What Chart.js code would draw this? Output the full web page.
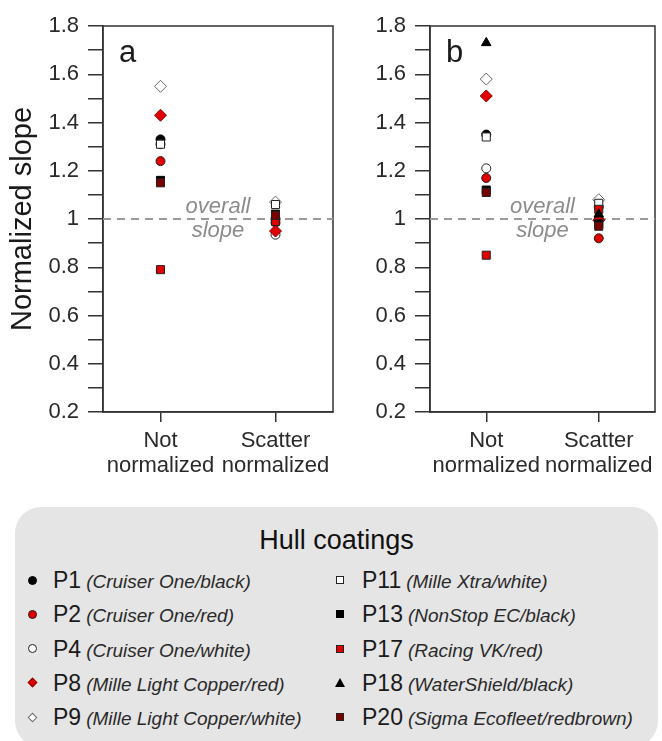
<!DOCTYPE html>
<html lang="en">
<head>
<meta charset="UTF-8">
<title>Normalized slope by hull coating</title>
<style>
  body { margin: 0; background: #fff; font-family: Arial, "Liberation Sans", sans-serif; }
  #wrap { position: relative; width: 662px; height: 741px; overflow: hidden; }
  #chartA { position: absolute; left: 0; top: 0; }
  #chartB { position: absolute; left: 340px; top: 0; }
  .legend {
    position: absolute; left: 15px; top: 507px; width: 643px; height: 240px;
    background: #e5e5e5; border-radius: 26px;
  }
  .legend h3 {
    position: absolute; left: 0; right: 0; top: 18px; margin: 0;
    height: 30px; line-height: 30px; text-align: center;
    font-weight: normal; font-size: 27px; color: #111;
  }
  .item { position: absolute; height: 30px; line-height: 30px; white-space: nowrap; }
  .code { font-size: 23px; color: #1a1a1a; }
  .desc { font-size: 19px; font-style: italic; color: #2a2a2a; margin-left: 5px; }
  .mk { position: absolute; box-sizing: border-box; }
</style>
</head>
<body>
<div id="wrap">
  <canvas id="chartA" width="340" height="500"></canvas>
  <canvas id="chartB" width="322" height="500"></canvas>
  <div class="legend" id="legend"><h3>Hull coatings</h3></div>
</div>

<script src="https://cdn.jsdelivr.net/npm/chart.js"></script>
<script>
// x categories
const categories = [['Not', 'normalized'], ['Scatter', 'normalized']];

// y axis
const yMin = 0.2;
const yMax = 1.8;
const yStep = 0.1;
const overallSlope = 1;

// coatings
const coatings = ['P1', 'P2', 'P4', 'P8', 'P9', 'P11', 'P13', 'P17', 'P18', 'P20'];
const descriptions = [
    'Cruiser One/black', 'Cruiser One/red', 'Cruiser One/white',
    'Mille Light Copper/red', 'Mille Light Copper/white', 'Mille Xtra/white',
    'NonStop EC/black', 'Racing VK/red', 'WaterShield/black', 'Sigma Ecofleet/redbrown'
];

// panel a
const aNotNormalized     = [1.33, 1.24, 1.31, 1.43, 1.55, 1.31, 1.16, 0.79, null, 1.15];
const aScatterNormalized = [1.00, 0.985, 0.935, 0.95, 1.07, 1.06, 1.02, 0.99, null, 1.015];

// panel b
const bNotNormalized     = [1.35, 1.17, 1.21, 1.51, 1.58, 1.34, 1.12, 0.85, 1.73, 1.11];
const bScatterNormalized = [1.00, 0.92, 1.05, 0.995, 1.08, 1.065, 0.98, 1.04, 1.02, 0.97];

// marker look for each coating (same order as coatings)
const markers = [
    { shape: 'circle',   fill: '#000000', stroke: '#000000', r: 4.5 },
    { shape: 'circle',   fill: '#e00000', stroke: '#222222', r: 4.5 },
    { shape: 'circle',   fill: '#ffffff', stroke: '#222222', r: 4.5 },
    { shape: 'rectRot',  fill: '#e00000', stroke: '#8a0000', r: 6 },
    { shape: 'rectRot',  fill: '#ffffff', stroke: '#666666', r: 6 },
    { shape: 'rect',     fill: '#ffffff', stroke: '#222222', r: 5.7 },
    { shape: 'rect',     fill: '#000000', stroke: '#000000', r: 5.7 },
    { shape: 'rect',     fill: '#e00000', stroke: '#222222', r: 5.7 },
    { shape: 'triangle', fill: '#000000', stroke: '#000000', r: 5.5 },
    { shape: 'rect',     fill: '#7a0000', stroke: '#222222', r: 5.7 }
];

const FONT = 'Arial, "Liberation Sans", sans-serif';

const panelDecor = {
    id: 'panelDecor',
    beforeDatasetsDraw(chart, args, opts) {
        const { ctx, chartArea: a, scales } = chart;
        ctx.save();
        // overall slope text
        const cx = scales.x.getPixelForValue(1);
        const cy = scales.y.getPixelForValue(overallSlope);
        ctx.font = 'italic 22px ' + FONT;
        ctx.fillStyle = '#8c8c8c';
        ctx.textAlign = 'center';
        ctx.textBaseline = 'middle';
        ctx.fillText('overall', cx, cy - 12);
        ctx.fillText('slope', cx, cy + 12);
        // panel letter
        ctx.font = '31px ' + FONT;
        ctx.fillStyle = '#1a1a1a';
        ctx.textAlign = 'left';
        ctx.textBaseline = 'alphabetic';
        ctx.fillText(opts.letter, a.left + 16, a.top + 36);
        // frame
        ctx.strokeStyle = '#333';
        ctx.lineWidth = 1.5;
        ctx.strokeRect(a.left, a.top, a.right - a.left, a.bottom - a.top);
        ctx.restore();
    }
};

function makePanel(id, notVals, scatVals, letter, showTitle, axisWidth, padRight) {
    const datasets = coatings.map((c, i) => ({
        label: c,
        data: [notVals[i], scatVals[i]]
            .map((v, k) => ({ x: k + 0.5, y: v }))
            .filter(p => p.y !== null),
        pointStyle: markers[i].shape,
        backgroundColor: markers[i].fill,
        borderColor: markers[i].stroke,
        borderWidth: 1,
        pointRadius: markers[i].r,
        order: coatings.length - i
    }));
    datasets.push({
        type: 'line',
        label: 'overall slope',
        data: [{ x: 0, y: overallSlope }, { x: categories.length, y: overallSlope }],
        borderColor: '#9a9a9a',
        borderWidth: 2,
        borderDash: [8, 6],
        pointRadius: 0,
        order: 100
    });

    return new Chart(document.getElementById(id), {
        type: 'scatter',
        data: { datasets },
        options: {
            responsive: false,
            animation: false,
            events: [],
            layout: { padding: { top: 26, right: padRight, left: 0, bottom: 0 } },
            plugins: {
                legend: { display: false },
                tooltip: { enabled: false },
                panelDecor: { letter }
            },
            scales: {
                x: {
                    type: 'linear',
                    min: 0,
                    max: categories.length,
                    afterBuildTicks: s => { s.ticks = categories.map((c, k) => ({ value: k + 0.5 })); },
                    afterFit: s => { s.height = 88; },
                    grid: { drawOnChartArea: false, tickLength: 10, color: '#333', lineWidth: 1.5 },
                    border: { color: '#333', width: 1.5 },
                    ticks: {
                        padding: 7,
                        color: '#2a2a2a',
                        font: { family: FONT, size: 22, lineHeight: 1.12 },
                        maxRotation: 0,
                        autoSkip: false,
                        callback: v => categories[Math.round(v - 0.5)]
                    }
                },
                y: {
                    min: yMin,
                    max: yMax,
                    afterFit: s => { s.width = axisWidth; },
                    grid: { drawOnChartArea: false, tickLength: 15, color: '#333', lineWidth: 1.5 },
                    border: { color: '#333', width: 1.5 },
                    ticks: {
                        stepSize: yStep,
                        autoSkip: false,
                        padding: 9,
                        color: '#2a2a2a',
                        font: { family: FONT, size: 22 },
                        callback: v => {
                            const t = Math.round(v * 10);
                            return t % 2 === 0 ? String(t / 10) : '';
                        }
                    },
                    title: {
                        display: showTitle,
                        text: 'Normalized slope',
                        color: '#1a1a1a',
                        font: { family: FONT, size: 29 },
                        padding: { top: 6, bottom: 0 }
                    }
                }
            }
        },
        plugins: [panelDecor]
    });
}

makePanel('chartA', aNotNormalized, aScatterNormalized, 'a', true, 103, 5);
makePanel('chartB', bNotNormalized, bScatterNormalized, 'b', false, 90, 1);

// legend
const legend = document.getElementById('legend');
const colX = [17, 325];
const textX = [38, 347];
coatings.forEach((c, i) => {
    const col = i < 5 ? 0 : 1;
    const row = i % 5;
    const cy = 73 + row * 34.3;
    const item = document.createElement('div');
    item.className = 'item';
    item.style.left = textX[col] + 'px';
    item.style.top = (cy - 15) + 'px';
    item.innerHTML = '<span class="code">' + c + '</span><span class="desc">(' + descriptions[i] + ')</span>';
    legend.appendChild(item);

    const m = markers[i];
    const mk = document.createElement('div');
    mk.className = 'mk';
    let size = 9;
    if (m.shape === 'triangle') {
        mk.style.width = '0';
        mk.style.height = '0';
        mk.style.borderLeft = '5px solid transparent';
        mk.style.borderRight = '5px solid transparent';
        mk.style.borderBottom = '9px solid ' + m.fill;
        mk.style.left = (colX[col] - 5) + 'px';
        mk.style.top = (cy - 5) + 'px';
    } else {
        if (m.shape === 'rect') size = 8;
        if (m.shape === 'rectRot') size = 7;
        mk.style.width = size + 'px';
        mk.style.height = size + 'px';
        mk.style.background = m.fill;
        mk.style.border = '1px solid ' + m.stroke;
        if (m.shape === 'circle') mk.style.borderRadius = '50%';
        if (m.shape === 'rectRot') mk.style.transform = 'rotate(45deg)';
        mk.style.left = (colX[col] - size / 2) + 'px';
        mk.style.top = (cy - size / 2) + 'px';
    }
    legend.appendChild(mk);
});
</script>
</body>
</html>
